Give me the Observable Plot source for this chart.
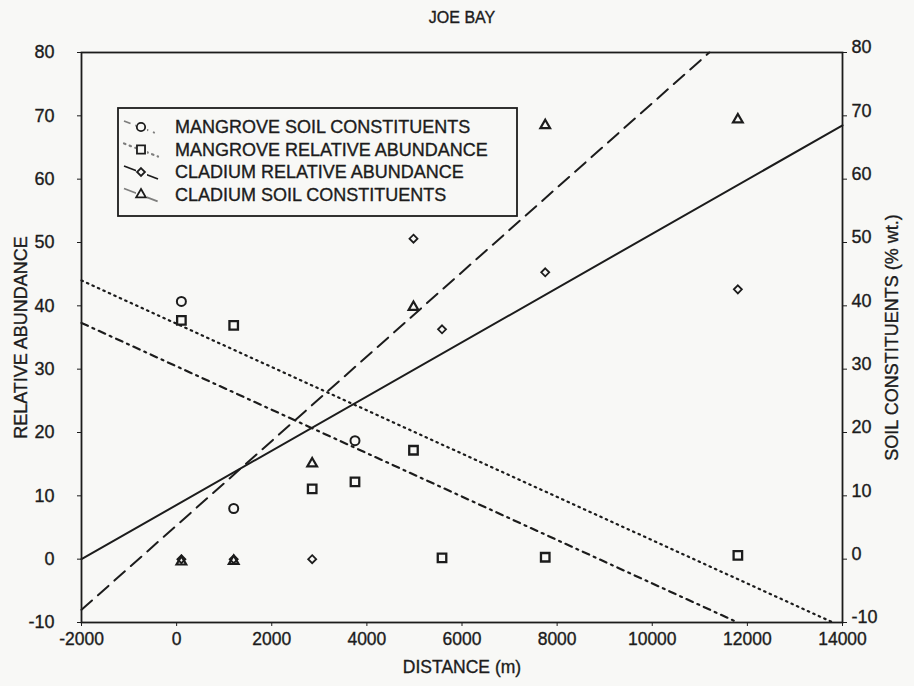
<!DOCTYPE html>
<html>
<head>
<meta charset="utf-8">
<script src="https://cdn.jsdelivr.net/npm/d3@7"></script>
<script src="https://cdn.jsdelivr.net/npm/@observablehq/plot@0.6"></script>
<style>
  html, body { margin: 0; padding: 0; background: #f8f8f6; }
  #wrap { position: relative; width: 914px; height: 686px; overflow: hidden; }
  #legend { position: absolute; left: 0; top: 0; }
  #wrap svg text { stroke: #1c1c1c; stroke-width: 0.35px; }
</style>
</head>
<body>
<div id="wrap"></div>
<script>
// ---- data ----
const title = "JOE BAY";
const xTicks = [-2000, 0, 2000, 4000, 6000, 8000, 10000, 12000, 14000];
const yTicks = [-10, 0, 10, 20, 30, 40, 50, 60, 70, 80];

// Mangrove soil constituents (circles)
const msX = [100, 1200, 3750];
const msY = [40.7, 8.0, 18.7];
// Mangrove relative abundance (squares)
const mraX = [100, 1200, 2850, 3750, 4980, 5580, 7750, 11800];
const mraY = [37.7, 36.9, 11.1, 12.2, 17.2, 0.2, 0.3, 0.6];
// Cladium relative abundance (diamonds)
const craX = [100, 1200, 2850, 4980, 5580, 7750, 11800];
const craY = [0, 0, 0, 50.6, 36.3, 45.3, 42.6];
// Cladium soil constituents (triangles)
const csX = [100, 1200, 2850, 4980, 7750, 11800];
const csY = [-0.4, -0.3, 15.1, 39.8, 68.5, 69.4];

// Regression lines (end points)
const craFitX = [-2000, 14000], craFitY = [0, 68.5];      // solid
const csFitX = [-2000, 11200], csFitY = [-8, 80];         // dashed
const msFitX = [-2000, 11800], msFitY = [37.3, -10];      // dash-dot
const mraFitX = [-2000, 13800], mraFitY = [44, -10];      // dotted

const legendLabels = [
  "MANGROVE SOIL CONSTITUENTS",
  "MANGROVE RELATIVE ABUNDANCE",
  "CLADIUM RELATIVE ABUNDANCE",
  "CLADIUM SOIL CONSTITUENTS"
];

// ---- build tables ----
const pts = (xs, ys) => xs.map((x, i) => ({x, y: ys[i]}));
const ink = "#1c1c1c";
const bg = "#f8f8f6";
const styles = {
  dashed: "14,8",
  dashdot: "7,5,2,5",
  dotted: "1.5,4.5"
};

const chart = Plot.plot({
  width: 914,
  height: 686,
  marginLeft: 81,
  marginRight: 72,
  marginTop: 52,
  marginBottom: 64,
  x: {domain: [-2000, 14000]},
  y: {domain: [-10, 80]},
  style: {
    fontFamily: "'Liberation Sans', Arial, sans-serif",
    fontSize: "18px",
    color: ink,
    background: bg
  },
  marks: [
    Plot.text([title], {frameAnchor: "top", dy: -41, fontSize: 16, fill: ink}),
    Plot.axisX({ticks: xTicks, tickSize: 4, tickPadding: 6, tickFormat: d => String(d),
      label: "DISTANCE (m)", labelAnchor: "center", labelArrow: "none", labelOffset: 50, fontSize: 17.5}),
    Plot.axisY({anchor: "left", ticks: yTicks, tickSize: 4, tickPadding: 23, tickFormat: d => String(d),
      label: "RELATIVE ABUNDANCE", labelAnchor: "center", labelArrow: "none", labelOffset: 67, fontSize: 18}),
    Plot.axisY({anchor: "right", ticks: yTicks, tickSize: 4, tickFormat: () => "", label: null}),
    Plot.axisY({anchor: "right", ticks: yTicks, tickSize: 0, tickPadding: 9, tickFormat: d => String(d),
      dy: -5, label: null, fontSize: 18}),
    Plot.axisY({anchor: "right", ticks: [], label: "SOIL CONSTITUENTS (% wt.)", labelAnchor: "center",
      labelArrow: "none", labelOffset: 55, fontSize: 18}),
    Plot.line(pts(mraFitX, mraFitY), {x: "x", y: "y", stroke: ink, strokeWidth: 2.2, strokeDasharray: styles.dotted, strokeLinecap: "round"}),
    Plot.line(pts(msFitX, msFitY), {x: "x", y: "y", stroke: ink, strokeWidth: 2.2, strokeDasharray: styles.dashdot}),
    Plot.line(pts(csFitX, csFitY), {x: "x", y: "y", stroke: ink, strokeWidth: 2, strokeDasharray: styles.dashed}),
    Plot.line(pts(craFitX, craFitY), {x: "x", y: "y", stroke: ink, strokeWidth: 2}),
    Plot.dot(pts(msX, msY), {x: "x", y: "y", symbol: "circle", r: 4.5, stroke: ink, strokeWidth: 2, fill: "none"}),
    Plot.dot(pts(mraX, mraY), {x: "x", y: "y", symbol: "square", r: 4.8, stroke: ink, strokeWidth: 2.3, fill: "none"}),
    Plot.dot(pts(craX, craY), {x: "x", y: "y", symbol: "diamond2", r: 3.6, stroke: ink, strokeWidth: 1.8, fill: "none"}),
    Plot.dot(pts(csX, csY), {x: "x", y: "y", symbol: "triangle", r: 3.6, stroke: ink, strokeWidth: 2.2, fill: "none"}),
    Plot.frame({stroke: ink, strokeWidth: 1.8})
  ]
});

const wrap = document.getElementById("wrap");
wrap.appendChild(chart);

// ---- legend overlay ----
const L = {left: 118, top: 108, width: 399, height: 108};
const svg = d3.select(wrap).append("svg")
  .attr("id", "legend")
  .attr("width", 914).attr("height", 686)
  .style("pointer-events", "none");
const g = svg.append("g").attr("transform", `translate(${L.left},${L.top})`);
g.append("rect").attr("width", L.width).attr("height", L.height)
  .attr("fill", bg).attr("stroke", ink).attr("stroke-width", 1.8);

const sym = d3.symbol();
const rows = [
  {dash: styles.dashdot, shape: d3.symbolCircle, size: 55},
  {dash: styles.dotted, shape: d3.symbolSquare, size: 65},
  {dash: null, shape: d3.symbolDiamond2, size: 40},
  {dash: styles.dashed, shape: d3.symbolTriangle, size: 40}
];
rows.forEach((r, i) => {
  const cy = 19 + i * 22.5;
  const row = g.append("g");
  row.append("line").attr("x1", 6).attr("y1", cy - 6).attr("x2", 40).attr("y2", cy + 7)
    .attr("stroke", ink).attr("stroke-width", r.dash === styles.dotted ? 2.2 : 1.8)
    .attr("stroke-dasharray", r.dash).attr("stroke-linecap", r.dash === styles.dotted ? "round" : "butt")
    .attr("opacity", r.dash ? 0.55 : 1);
  row.append("rect").attr("x", 18).attr("y", cy - 6).attr("width", 11).attr("height", 12).attr("fill", bg);
  row.append("path").attr("d", sym.type(r.shape).size(r.size)()).attr("transform", `translate(23,${cy})`)
    .attr("fill", "none").attr("stroke", ink).attr("stroke-width", 1.8);
  row.append("text").attr("x", 57).attr("y", cy).attr("dy", "0.36em")
    .attr("font-family", "'Liberation Sans', Arial, sans-serif").attr("font-size", 18)
    .attr("fill", ink).text(legendLabels[i]);
});
</script>
</body>
</html>
